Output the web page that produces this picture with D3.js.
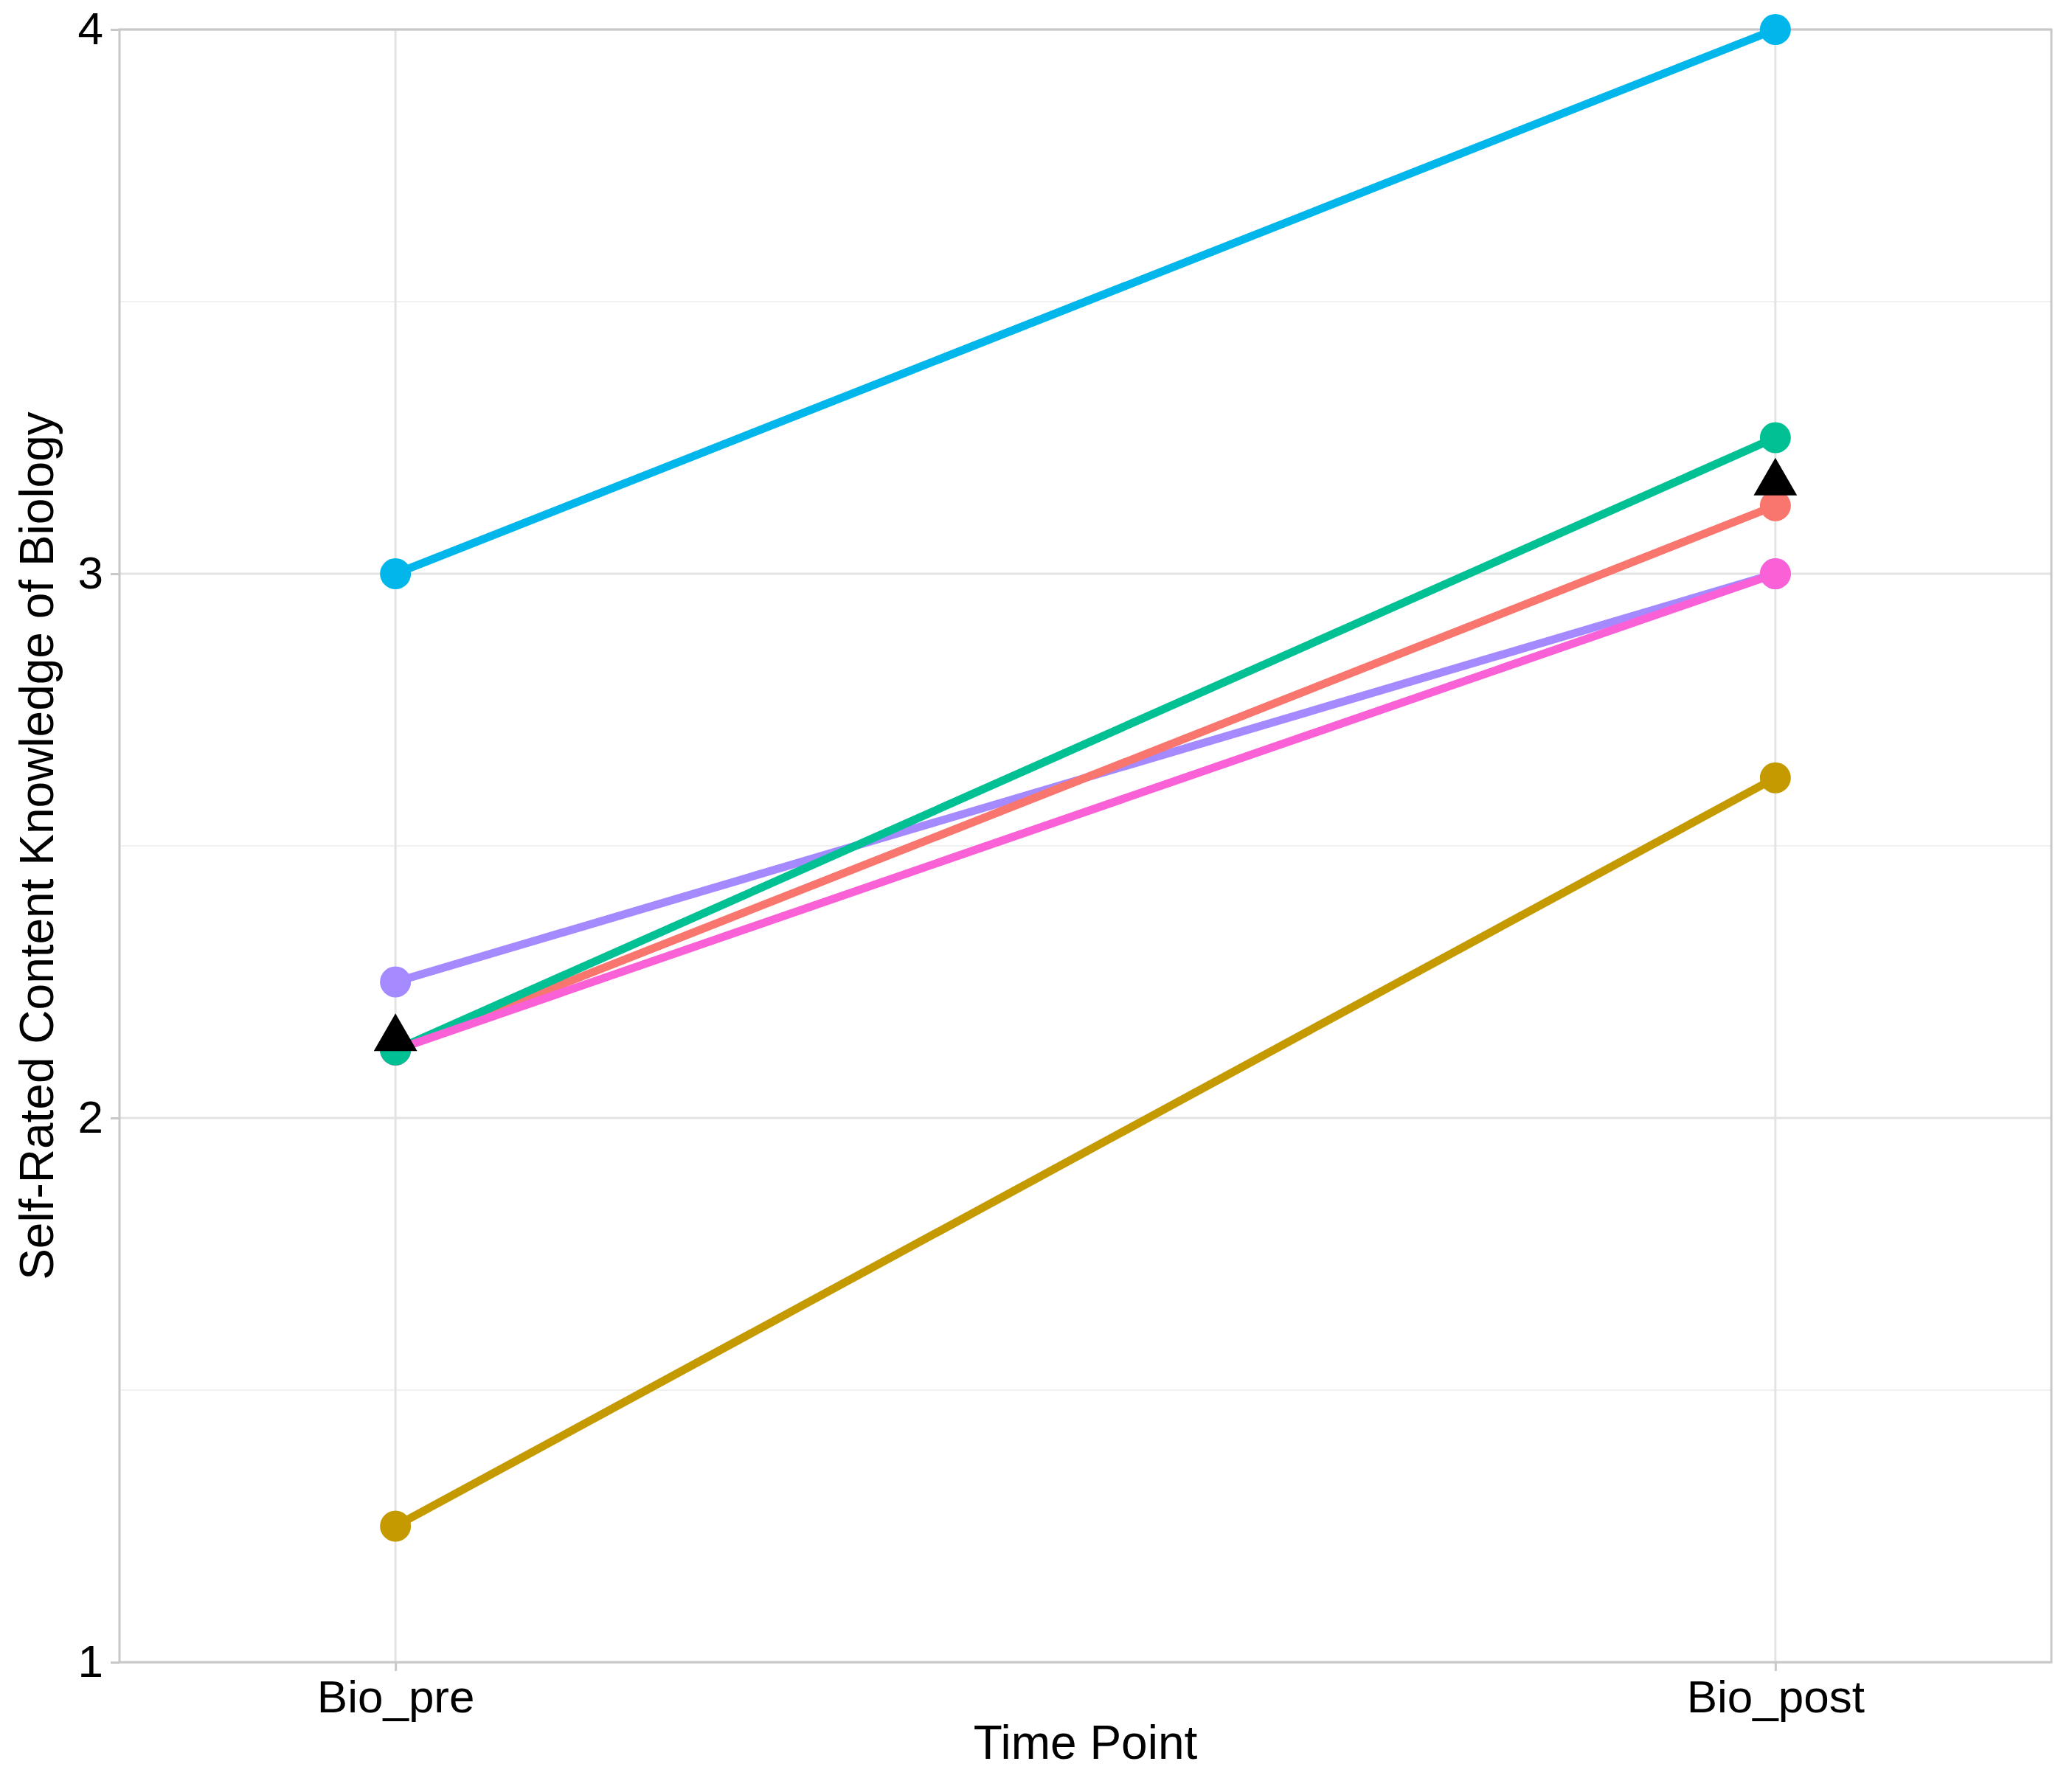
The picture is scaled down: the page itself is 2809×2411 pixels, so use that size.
<!DOCTYPE html>
<html><head><meta charset="utf-8">
<script src="https://cdn.jsdelivr.net/npm/d3@7"></script>
<style>body{margin:0;background:#fff}</style>
</head><body>
<svg id="chart" width="2809" height="2411"></svg>
<script>
var timePoints = ["Bio_pre", "Bio_post"];
var groupNames = ["A", "B", "C", "D", "E", "F"];
var groupColors = ["#F8766D", "#C49A00", "#00C094", "#00B6EB", "#A58AFF", "#FB61D7"];
var preValues = [2.125, 1.25, 2.125, 3, 2.25, 2.125];
var postValues = [3.125, 2.625, 3.25, 4, 3, 3];
var meanValues = [2.146, 3.167];
var yTicks = [1, 2, 3, 4];
var yMinor = [1.5, 2.5, 3.5];

var margin = {top: 40, right: 28, bottom: 157, left: 162};
var width = 2809 - margin.left - margin.right;
var height = 2411 - margin.top - margin.bottom;

var svg = d3.select("#chart");
var g = svg.append("g").attr("transform", `translate(${margin.left},${margin.top})`);

var x = d3.scalePoint().domain(timePoints).range([0, width]).padding(0.2);
var y = d3.scaleLinear().domain([1, 4]).range([height, 0]);

// grid
g.selectAll(".minor").data(yMinor).enter().append("line")
  .attr("x1", 0).attr("x2", width).attr("y1", d => y(d)).attr("y2", d => y(d))
  .attr("stroke", "#f0f0f0").attr("stroke-width", 2);
g.selectAll(".major").data(yTicks).enter().append("line")
  .attr("x1", 0).attr("x2", width).attr("y1", d => y(d)).attr("y2", d => y(d))
  .attr("stroke", "#e3e3e3").attr("stroke-width", 3);
g.selectAll(".vgrid").data(timePoints).enter().append("line")
  .attr("x1", d => x(d)).attr("x2", d => x(d)).attr("y1", 0).attr("y2", height)
  .attr("stroke", "#e3e3e3").attr("stroke-width", 3);

// panel border
g.append("rect").attr("width", width).attr("height", height)
  .attr("fill", "none").attr("stroke", "#c8c8c8").attr("stroke-width", 3);

// axes
var yAxis = g.append("g").call(d3.axisLeft(y).tickValues(yTicks).tickSize(12).tickPadding(10).tickFormat(d3.format("d")));
var xAxis = g.append("g").attr("transform", `translate(0,${height})`)
  .call(d3.axisBottom(x).tickSize(12).tickPadding(12));
[xAxis, yAxis].forEach(a => {
  a.select(".domain").remove();
  a.selectAll("line").attr("stroke", "#c8c8c8").attr("stroke-width", 3);
  a.selectAll("text").attr("font-family", "Liberation Sans, Arial, sans-serif")
    .attr("font-size", 62).attr("fill", "#000");
});

// lines and points
var data = groupNames.map((n, i) => ({name: n, color: groupColors[i], vals: [preValues[i], postValues[i]]}));
var line = d3.line().x((d, i) => x(timePoints[i])).y(d => y(d));
var lineOrder = [1, 3, 4, 0, 2, 5];
lineOrder.forEach(i => {
  g.append("path").datum(data[i].vals).attr("d", line).attr("fill", "none")
    .attr("stroke", data[i].color).attr("stroke-width", 11);
});
var pointOrder = [1, 3, 4, 0, 5, 2];
pointOrder.forEach(i => {
  var d = data[i];
  g.selectAll(null).data(d.vals).enter().append("circle")
    .attr("cx", (v, j) => x(timePoints[j])).attr("cy", v => y(v))
    .attr("r", 21).attr("fill", d.color);
});

// means
g.selectAll(".mean").data(meanValues).enter().append("path")
  .attr("d", d3.symbol().type(d3.symbolTriangle).size(1500))
  .attr("transform", (v, j) => `translate(${x(timePoints[j])},${y(v)})`)
  .attr("fill", "#000");

// titles
svg.append("text").attr("x", margin.left + width / 2).attr("y", 2385)
  .attr("text-anchor", "middle").attr("font-family", "Liberation Sans, Arial, sans-serif")
  .attr("font-size", 64).text("Time Point");
svg.append("text").attr("transform", `translate(72,${margin.top + height / 2}) rotate(-90)`)
  .attr("text-anchor", "middle").attr("font-family", "Liberation Sans, Arial, sans-serif")
  .attr("font-size", 64).text("Self-Rated Content Knowledge of Biology");
</script>
</body></html>
